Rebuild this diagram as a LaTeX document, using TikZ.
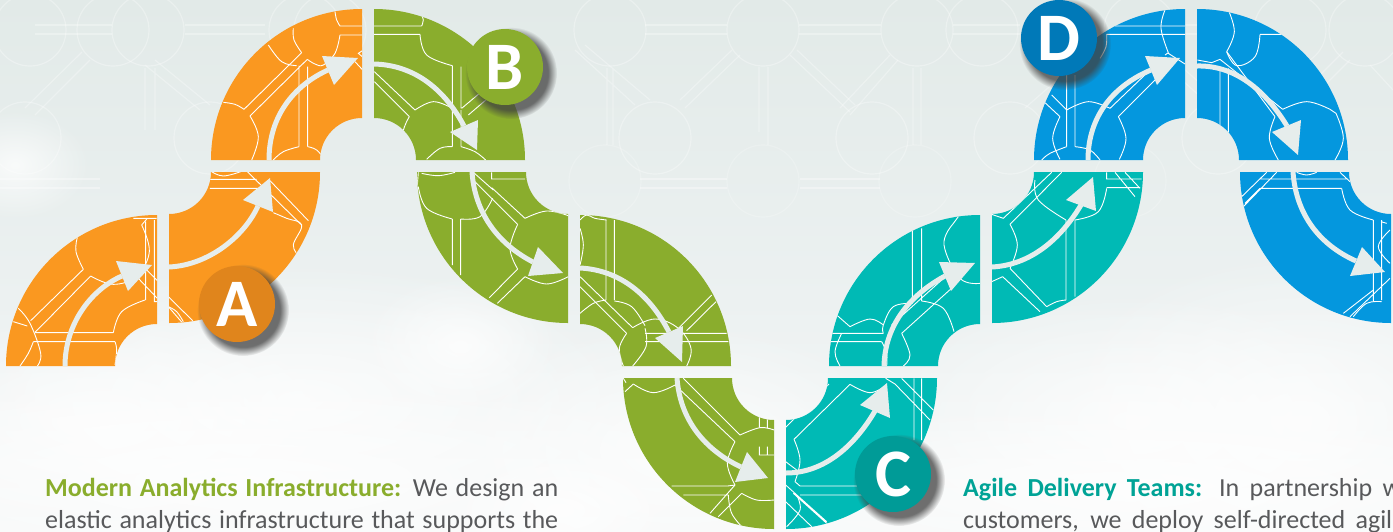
\documentclass[tikz,border=0pt]{standalone}
\usepackage{fontspec}
\setmainfont{Carlito}
\usetikzlibrary{fadings}
\definecolor{cOr}{HTML}{FA9820}
\definecolor{cGr}{HTML}{8AAD2D}
\definecolor{cTe}{HTML}{00BAB5}
\definecolor{cBl}{HTML}{0497DE}
\definecolor{cBa}{HTML}{E0851C}
\definecolor{cBc}{HTML}{009B97}
\definecolor{cBd}{HTML}{0079B8}
\definecolor{cFlow}{HTML}{E6EDEC}
\definecolor{cTxt}{HTML}{58595B}
\definecolor{cTl}{HTML}{00A396}
\definecolor{bgA}{HTML}{E2EAE8}
\definecolor{bgB}{HTML}{ECF1F1}
\definecolor{bgC}{HTML}{F7F9F9}
\tikzfading[name=softc,inner color=transparent!25,outer color=transparent!100]
\tikzset{
  wl/.style={draw=white,line width=0.9pt},
  bgl/.style={draw=white,opacity=.3,line width=1.2pt},
  cloud/.style={fill=white,path fading=softc},
  badgetxt/.style={circle,minimum size=76pt,inner sep=0pt,text=white,font=\fontsize{68}{68}\selectfont\bfseries},
  shad/.style={fill=black!75,opacity=.75,path fading=circle with fuzzy edge 20 percent},
  para/.style={anchor=base west,inner sep=0pt,text=cTxt,font=\fontsize{26}{30}\selectfont}
}
\newcommand\segm[6]{%
  \fill[#5] ({#1+(#3)*151},#2) .. controls ({#1+(#3)*151},{#2+(#4)*83.4}) and ({#1+(#3)*83.4},{#2+(#4)*151}) .. (#1,{#2+(#4)*151}) -- (#1,{#2+(#4)*42}) .. controls ({#1+(#3)*23.2},{#2+(#4)*42}) and ({#1+(#3)*42},{#2+(#4)*23.2}) .. ({#1+(#3)*42},#2) -- cycle;
  \begin{scope}
    \clip ({#1+(#3)*151},#2) .. controls ({#1+(#3)*151},{#2+(#4)*83.4}) and ({#1+(#3)*83.4},{#2+(#4)*151}) .. (#1,{#2+(#4)*151}) -- (#1,{#2+(#4)*42}) .. controls ({#1+(#3)*23.2},{#2+(#4)*42}) and ({#1+(#3)*42},{#2+(#4)*23.2}) .. ({#1+(#3)*42},#2) -- cycle;
    #6
  \end{scope}}
\newcommand\zm[3]{\begin{scope}[shift={(#1,#2)},x=0.33333pt,y=-0.33333pt]#3\end{scope}}
\newcommand\lob[1]{\draw[wl] plot[smooth,tension=.65] coordinates {#1};}
% flow name, start, c1, c2, end, base1, tip, base2
\newcommand\flow[8]{%
  \coordinate (f#1s) at #2; \coordinate (f#1e) at #5;
  \draw[cFlow,line width=5pt] (f#1s) .. controls #3 and #4 .. (f#1e);
  \fill[cFlow] #6 -- #7 -- #8 -- cycle;}
\begin{document}
\begin{tikzpicture}[x=1pt,y=-1pt]
\useasboundingbox (0,0) rectangle (1393,531);
\clip (0,0) rectangle (1393,531);
% background
\fill[top color=bgA,bottom color=bgB] (0,0) rectangle (1393,300);
\fill[top color=bgB,bottom color=bgC] (0,300) rectangle (1393,531);
\foreach \cx/\cy/\rx/\ry in {15/165/75/55, 100/420/240/110, 300/400/340/140, 460/345/100/70, 240/480/520/110, 1130/420/260/130, 1300/420/260/170, 1120/490/480/90, 680/450/240/130, 560/510/120/60}{
  \fill[cloud] (\cx,\cy) ellipse [x radius=\rx,y radius=\ry];}
% faint lattice
\foreach \x in {30,113,148,305,330,610,763,917,982,1140,1290,1365}{\draw[bgl] (\x,30) circle[radius=36];}
\foreach \x in {25,210,655,872,1010,1218}{\draw[bgl] (\x,138) circle[radius=36];}
\foreach \x in {605,763,915,1130}{\draw[bgl,opacity=.2] (\x,181) circle[radius=36];}
\draw[bgl] (35,25)--(112,25) (35,34)--(112,34) (185,25)--(265,25) (185,34)--(265,34) (645,25)--(727,25) (645,34)--(727,34) (799,25)--(881,25) (799,34)--(881,34) (953,25)--(1020,25) (953,34)--(1020,34) (1180,25)--(1250,25) (1180,34)--(1250,34);
\draw[bgl,opacity=.35] (0,179)--(100,179) (0,188)--(100,188) (640,179)--(727,179) (640,188)--(727,188) (800,179)--(880,179) (800,188)--(880,188);
\draw[bgl] (740,55)--(685,108) (732,50)--(680,100) (790,55)--(850,112) (797,50)--(855,105) (759,67)--(759,132) (768,67)--(768,145);
\draw[bgl] (575,50)--(635,105) (585,45)--(650,100) (607,68)--(607,145) (613,68)--(613,145) (890,55)--(840,108) (898,60)--(850,115) (913,68)--(913,145) (921,68)--(921,145);
\draw[bgl] (25,108)--(82,52) (35,115)--(90,60) (145,65)--(200,110) (155,60)--(210,105) (145,68)--(145,130) (155,68)--(155,130);
\draw[bgl] (1025,108)--(1080,60) (1160,60)--(1215,110) (1168,55)--(1225,105) (1200,68)--(1200,100) (1370,65)--(1393,90) (1350,60)--(1300,110) (1343,52)--(1290,105);
% segments
\segm{157}{366}{-1}{-1}{cOr}{\zm{0}{150}{
  \lob{(232,262)(228,305)(250,358)} \lob{(272,378)(340,403)(410,378)(448,305)(425,225)}
  \draw[wl] (250,358)--(92,512) (272,378)--(105,547) (105,548)--(340,548) (100,575)--(345,575);
  \lob{(340,548)(365,485)(435,450)} \lob{(345,575)(350,600)(345,645)}
  \draw[wl] (437,450)--(437,215) (425,225)--(442,205) (463,210)--(463,455)--(472,455) (415,385)--(472,445) (440,360)--(472,392) (400,205)--(470,205);
  \lob{(55,475)(90,520)(122,610)(112,648)} \draw[wl] (40,515)--(82,528); \lob{(100,575)(85,610)(60,648)}
}}
\segm{169}{172}{1}{1}{cOr}{\zm{0}{150}{
  \draw[wl] (505,440)--(578,512) (505,470)--(545,516) (630,88)--(770,88) (630,115)--(800,115) (742,65)--(905,225) (810,92)--(925,212);
  \lob{(635,65)(670,78)(722,65)} \lob{(820,188)(860,205)(905,225)(880,285)(897,318)} \lob{(505,470)(530,485)(550,515)}
}}
\segm{362}{160}{-1}{-1}{cOr}{\zm{0}{0}{
  \draw[wl] (1020,78)--(1090,78) (1020,105)--(1090,105) (905,158)--(732,328) (922,178)--(750,348) (897,197)--(897,440) (923,200)--(923,440) (1065,185)--(1090,212) (1087,152)--(1075,160)--(1087,170);
  \lob{(1005,35)(1010,60)(1020,78)} \lob{(1020,105)(1005,160)(970,195)(945,192)(922,178)} \lob{(805,135)(845,185)(890,197)} \lob{(880,85)(882,120)(905,158)}
  \lob{(670,307)(705,313)(732,328)} \lob{(750,348)(775,410)(755,480)} \lob{(897,440)(850,455)(820,480)} \lob{(923,440)(950,450)(975,480)}
}}
\segm{374}{160}{1}{-1}{cGr}{\zm{200}{0}{
  \draw[wl] (522,78)--(665,78) (522,103)--(660,103) (757,197)--(757,440) (783,200)--(783,325) (785,325)--(860,262) (805,345)--(875,285) (783,440)--(783,330) (523,215)--(645,330) (523,245)--(628,350);
  \lob{(665,78)(670,60)(665,45)} \lob{(660,103)(680,165)(757,197)} \lob{(645,330)(700,305)(757,325)} \lob{(628,350)(610,395)(625,440)(618,480)} \lob{(680,478)(720,445)(757,440)} \lob{(783,440)(825,455)(857,480)}
}}
\segm{568}{172}{-1}{1}{cGr}{\zm{410}{165}{
  \draw[wl] (127,162)--(127,300) (152,162)--(152,330) (195,50)--(323,178) (245,68)--(345,160) (245,22)--(245,42)--(345,42) (190,22)--(250,75) (323,312)--(238,398) (345,335)--(262,415) (25,22)--(22,60);
  \lob{(35,25)(85,32)(135,22)} \lob{(25,65)(50,130)(127,162)} \lob{(152,162)(210,155)(248,100)} \lob{(345,160)(410,138)(475,152)} \lob{(323,178)(300,250)(323,312)} \lob{(345,335)(410,357)(475,335)}
}}
\segm{580}{366}{1}{-1}{cGr}{\zm{410}{165}{
  \draw[wl] (588,165)--(588,405) (613,165)--(613,405) (510,335)--(668,488) (510,365)--(650,505) (805,490)--(905,390) (830,497)--(918,410) (705,505)--(950,505) (705,530)--(955,530);
  \lob{(510,165)(530,150)(555,160)(590,165)} \lob{(510,190)(520,240)(510,300)} \lob{(510,445)(550,415)(588,405)} \lob{(613,408)(665,425)(705,482)} \lob{(668,488)(735,462)(805,490)(843,550)(830,603)} \lob{(650,505)(628,550)(640,603)} \lob{(705,490)(708,545)(668,603)}
}}
\segm{774}{378}{-1}{1}{cGr}{\zm{600}{350}{
  \draw[wl] (70,85)--(78,98) (75,125)--(100,102) (250,85)--(420,255) (225,105)--(405,275) (478,200)--(478,233) (502,208)--(502,235) (478,290)--(478,315)--(522,315) (502,290)--(502,315) (215,408)--(383,408) (250,435)--(385,435) (405,405)--(330,490) (425,430)--(355,500) (383,408)--(405,405);
  \lob{(100,102)(160,128)(225,105)} \lob{(420,255)(480,233)(522,240)} \lob{(405,275)(382,340)(405,405)} \lob{(425,430)(470,450)(522,450)} \lob{(385,435)(395,490)(430,535)}
}}
\segm{786}{378}{1}{1}{cTe}{\zm{600}{350}{
  \draw[wl] (557,232)--(687,102) (582,268)--(750,103) (885,102)--(990,210) (905,85)--(1000,180) (942,85)--(942,270) (965,85)--(965,270) (857,85)--(885,102) (557,335)--(590,360) (585,395)--(600,408)--(800,408) (600,435)--(800,435) (557,405)--(680,515) (580,430)--(680,520) (557,455)--(635,530);
  \lob{(750,103)(810,128)(860,105)} \lob{(582,268)(600,330)(585,395)} \lob{(590,435)(600,480)(560,530)}
}}
\segm{980}{366}{-1}{-1}{cTe}{\zm{820}{165}{
  \draw[wl] (415,155)--(398,178) (277,190)--(277,415) (305,190)--(305,408) (400,365)--(245,505) (365,345)--(215,480) (50,450)--(90,485) (30,505)--(190,505) (30,530)--(185,530);
  \lob{(398,178)(372,240)(420,340)(480,355)} \lob{(245,505)(270,570)(250,603)} \lob{(305,408)(370,430)(402,500)} \lob{(277,415)(220,425)(190,480)(190,505)} \lob{(90,485)(150,462)(190,480)} \lob{(65,505)(45,560)(60,603)} \lob{(185,530)(200,565)(200,603)}
}}
\segm{992}{172}{1}{1}{cTe}{\zm{820}{165}{
  \draw[wl] (725,22)--(570,178) (695,22)--(550,160) (550,160)--(515,148) (570,310)--(680,425) (548,335)--(660,440) (548,335)--(515,350) (738,165)--(738,405) (765,165)--(765,395) (860,22)--(860,42)--(965,42) (860,68)--(960,68) (885,22)--(945,95) (915,22)--(960,70);
  \lob{(645,45)(655,105)(738,165)} \lob{(860,70)(835,140)(765,165)} \lob{(570,178)(592,240)(570,310)} \lob{(680,425)(710,410)(738,405)}
}}
\segm{1185}{160}{-1}{-1}{cBl}{\zm{1000}{0}{
  \draw[wl] (345,78)--(555,78) (320,103)--(555,103) (200,225)--(200,440) (225,225)--(225,440) (135,308)--(180,350) (155,285)--(200,330) (330,325)--(450,210) (355,350)--(470,235) (505,160)--(555,192) (495,165)--(505,158);
  \lob{(495,30)(483,85)(505,158)} \lob{(200,330)(265,305)(330,325)} \lob{(180,350)(158,415)(180,478)} \lob{(355,350)(378,415)(358,478)} \lob{(200,440)(150,460)(125,480)} \lob{(225,440)(270,450)(300,480)} \lob{(320,103)(318,140)(300,175)}
}}
\segm{1197}{160}{1}{-1}{cBl}{\zm{1000}{0}{
  \draw[wl] (780,103)--(1000,103) (660,200)--(660,380) (685,205)--(685,470) (660,178)--(848,328) (680,155)--(825,350) (660,178)--(635,188)--(592,180) (990,328)--(1008,340);
  \lob{(685,30)(703,95)(680,155)} \lob{(780,103)(765,170)(710,197)(680,155)} \lob{(848,328)(920,305)(990,328)} \lob{(1008,340)(1030,415)(1005,480)} \lob{(825,350)(808,415)(835,480)}
}}
\segm{1391}{172}{-1}{1}{cBl}{\zm{1000}{0}{
  \draw[wl] (830,517)--(730,620) (780,565)--(735,610) (800,517)--(725,590) (780,537)--(1040,537) (780,565)--(1025,565) (1020,517)--(1050,545) (1120,660)--(1120,905) (1145,660)--(1145,900) (1143,665)--(1160,670) (1120,870)--(1030,940) (1170,835)--(1050,950);
  \lob{(1025,565)(1050,630)(1120,660)} \lob{(890,517)(920,525)(950,517)} \lob{(1170,690)(1135,740)(1170,790)} \lob{(1145,905)(1100,910)(1060,950)} \lob{(720,480)(745,460)(775,490)}
}}
% flows
\flow{1}{(65,366)}{(65,325)}{(90,290)}{(122,276)}{(116,261)}{(152,265)}{(128,291)}
\flow{2}{(169,267)}{(210,265)}{(245,235)}{(258,206)}{(243,200)}{(270,178)}{(273,212)}
\flow{3}{(269,160)}{(269,115)}{(295,85)}{(328,70)}{(322,56)}{(358,58)}{(334,85)}
\flow{4}{(374,64)}{(415,65)}{(445,90)}{(464,126)}{(478,120)}{(477,150)}{(450,132)}
\flow{5}{(472,172)}{(475,215)}{(500,245)}{(533,262)}{(538,247)}{(563,273)}{(528,276)}
\flow{6}{(580,268)}{(620,270)}{(650,295)}{(669,332)}{(683,326)}{(682,362)}{(655,338)}
\flow{7}{(677,378)}{(680,420)}{(705,450)}{(741,467)}{(747,452)}{(768,478)}{(735,482)}
\flow{8}{(786,473)}{(825,473)}{(855,445)}{(875,411)}{(860,405)}{(887,383)}{(890,418)}
\flow{9}{(884,366)}{(885,325)}{(910,295)}{(945,276)}{(939,262)}{(975,263)}{(951,291)}
\flow{10}{(992,267)}{(1030,265)}{(1060,240)}{(1081,205)}{(1066,200)}{(1093,177)}{(1096,211)}
\flow{11}{(1088,160)}{(1088,115)}{(1115,85)}{(1151,70)}{(1145,56)}{(1180,58)}{(1157,85)}
\flow{12}{(1197,66)}{(1235,65)}{(1265,90)}{(1287,126)}{(1301,120)}{(1298,155)}{(1272,132)}
\flow{13}{(1293,172)}{(1296,215)}{(1320,245)}{(1356,261)}{(1362,247)}{(1385,272)}{(1350,276)}
% badges
\foreach \cx/\cy in {237/304,505/67,893/474,1059/38}{\fill[shad] (\cx+6,\cy+6) circle[radius=46];}
\node[badgetxt,fill=cBa] (bA) at (237,304) {A};
\node[badgetxt,fill=cGr] (bB) at (505,67) {B};
\node[badgetxt,fill=cBc] (bC) at (893,474) {C};
\node[badgetxt,fill=cBd] (bD) at (1059,38) {D};
% text
\node[para] (t1) at (45,496) {\makebox[513pt][s]{\textbf{\textcolor{cGr}{Modern Analytics Infrastructure:}} We design an}};
\node[para] (t2) at (45,528) {\makebox[513pt][s]{elastic analytics infrastructure that supports the}};
\node[para] (t3) at (963,496) {\makebox[438pt][s]{\textbf{\textcolor{cTl}{Agile Delivery Teams:}} In partnership w}};
\node[para] (t4) at (963,528) {\makebox[429pt][s]{customers, we deploy self-directed agil}};
\end{tikzpicture}
\end{document}
